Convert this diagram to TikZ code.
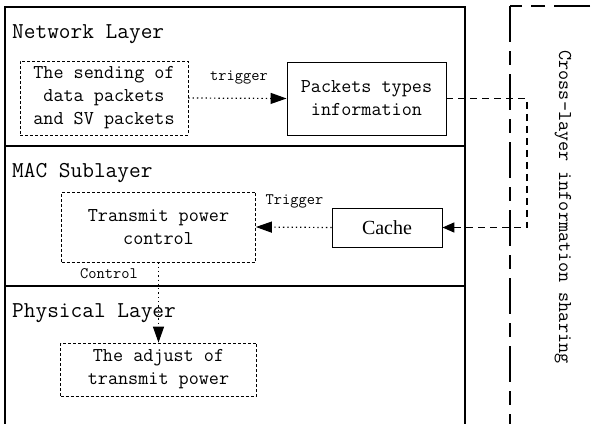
\documentclass[tikz,border=0pt]{standalone}
\usepackage{fontspec}
\setmainfont{Liberation Serif}
\setmonofont{Latin Modern Mono}
\usetikzlibrary{arrows.meta}

\begin{document}
\begin{tikzpicture}[x=1pt, y=-1pt,
    layer/.style={line width=1.8pt},
    layertitle/.style={anchor=base west, inner sep=0pt, font=\ttfamily\fontsize{22.7}{26}\selectfont},
    softbox/.style={draw, dash pattern=on 3pt off 2pt, line width=0.7pt, align=center, inner sep=0pt, font=\ttfamily\fontsize{19.6}{23}\selectfont},
    hardbox/.style={draw, line width=0.9pt, align=center, inner sep=0pt, font=\ttfamily\fontsize{19.6}{23}\selectfont},
    tag/.style={inner sep=0pt, font=\ttfamily\fontsize{16}{18}\selectfont},
    dotarrow/.style={dash pattern=on 1.3pt off 3pt, line width=1.2pt, -{Triangle[length=16pt,width=11pt]}},
    share/.style={dash pattern=on 7pt off 5pt, line width=1.6pt, -{Triangle[length=12pt,width=10pt]}},
    crossbox/.style={dash pattern=on 36pt off 9pt on 14pt off 9pt, line width=2pt},
]
\useasboundingbox (0,0) rectangle (597,423);
\clip (0,0) rectangle (597,423);

% layer frames
\draw[layer] (5,7) rectangle (465,440);
\draw[layer] (5,146) -- (465,146);
\draw[layer] (5,286) -- (465,286);
\node[layertitle] (nettitle) at (12,38) {Network Layer};
\node[layertitle] (mactitle) at (12,177) {MAC Sublayer};
\node[layertitle] (phytitle) at (12,317) {Physical Layer};

% cross-layer box
\draw[crossbox] (510,6) rectangle (640,460);
\node[rotate=-90, inner sep=0pt, font=\ttfamily\fontsize{19.6}{23}\selectfont] (sharetitle) at (563,207) {Cross-layer information sharing};

% boxes
\node[softbox, minimum width=168pt, minimum height=74pt] (send) at (104,98) {The sending of\\data packets\\and SV packets};
\node[hardbox, minimum width=159pt, minimum height=73pt] (pkt) at (366.5,98.5) {Packets types\\information};
\node[hardbox, minimum width=110pt, minimum height=39pt, font=\fontsize{20}{24}\selectfont] (cache) at (387,227.5) {Cache};
\node[softbox, minimum width=194pt, minimum height=70pt] (tpc) at (158.5,227) {Transmit power\\control};
\node[softbox, minimum width=196pt, minimum height=53pt] (adjust) at (158.5,369.5) {The adjust of\\transmit power};

% connectors
\draw[dotarrow] (send.east) -- (pkt.west);
\node[tag] (trig1) at (239,78) {trigger};
\draw[dotarrow] (cache.west) -- (tpc.east);
\node[tag] (trig2) at (294.5,201) {Trigger};
\draw[dotarrow] (tpc.south) -- (adjust.north);
\node[tag] (ctrl) at (109,274) {Control};

\coordinate (bus) at (527,0);
\draw[share] (pkt.east) -- (pkt.east -| bus) |- (cache.east);
\end{tikzpicture}
\end{document}
